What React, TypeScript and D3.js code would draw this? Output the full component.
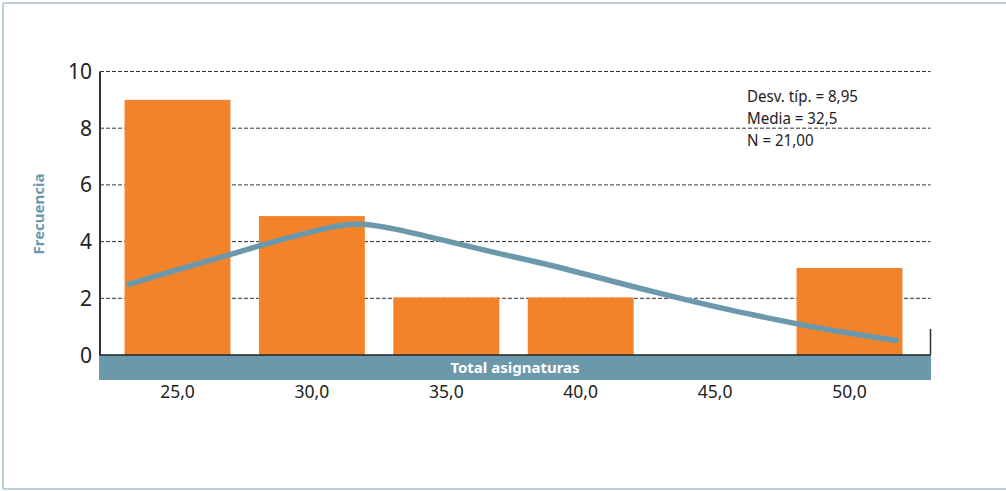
import React from "react";
import * as d3 from "d3";

const categories = [25, 30, 35, 40, 45, 50];
const tickLabels = ["25,0", "30,0", "35,0", "40,0", "45,0", "50,0"];
const frequencies = [9, 4.9, 2.03, 2.03, 0, 3.07];
const yTicks = [0, 2, 4, 6, 8, 10];
const curveX = [23.11, 24.96, 26.93, 28.05, 29.9, 31.13, 31.76, 32.99, 34.84, 36.7, 38.56, 40.42, 42.16, 43.65, 45.51, 47.36, 49.22, 51.82];
const curveY = [2.47, 3.0, 3.53, 3.86, 4.34, 4.59, 4.65, 4.48, 4.06, 3.63, 3.25, 2.79, 2.36, 2.01, 1.59, 1.23, 0.88, 0.5];
const statsLines = ["Desv. típ. = 8,95", "Media = 32,5", "N = 21,00"];
const xTitle = "Total asignaturas";
const yTitle = "Frecuencia";

const W = 1006;
const H = 491;
const FONT = "'Noto Sans', 'Open Sans', sans-serif";
const ORANGE = "#f2832b";
const BLUE = "#6b99ab";

export default function App() {
  const x = d3.scaleLinear().domain([25, 50]).range([177.5, 849.5]);
  const y = d3.scaleLinear().domain([0, 10]).range([355, 71.5]);
  const halfW = 1.97;
  const left = 100;
  const right = 930.5;

  const line = d3
    .line<number>()
    .x((_, i) => x(curveX[i]))
    .y((d) => y(d))
    .curve(d3.curveBasis);

  return (
    <div style={{ position: "absolute", left: 0, top: 0 }}>
      <svg width={W} height={H} style={{ display: "block" }}>
        <rect x={0} y={0} width={W} height={H} fill="#fff" />
        {/* frame */}
        <line x1={3} x2={W} y1={3} y2={3} stroke="#a9c0cc" strokeWidth={1.5} />
        <line x1={3} x2={3} y1={3} y2={489} stroke="#a9c0cc" strokeWidth={1.5} />
        <line x1={3} x2={W} y1={489} y2={489} stroke="#a9c0cc" strokeWidth={1.5} />

        {/* gridlines */}
        {yTicks.filter((t) => t > 0).map((t) => (
          <line key={t} x1={left} x2={right} y1={y(t)} y2={y(t)} stroke="#333" strokeWidth={1} strokeDasharray="4,2" />
        ))}

        {/* bars */}
        {categories.map((c, i) =>
          frequencies[i] > 0 ? (
            <rect
              key={c}
              x={x(c - halfW)}
              width={x(c + halfW) - x(c - halfW)}
              y={y(frequencies[i])}
              height={y(0) - y(frequencies[i])}
              fill={ORANGE}
            />
          ) : null
        )}

        {/* normal curve */}
        <path d={line(curveY) || ""} fill="none" stroke={BLUE} strokeWidth={5.5} />

        {/* axis band */}
        <rect x={99} y={355} width={832} height={25} fill={BLUE} />
        <line x1={left} x2={right} y1={355} y2={355} stroke="#222" strokeWidth={1.5} />
        <line x1={left} x2={left} y1={y(10)} y2={355.5} stroke="#333" strokeWidth={2} />
        <line x1={right} x2={right} y1={329} y2={355} stroke="#333" strokeWidth={1.5} />
        <text x={515} y={373} textAnchor="middle" fill="#fff" fontFamily={FONT} fontWeight="bold" fontSize={15}>
          {xTitle}
        </text>

        {/* y tick labels */}
        {yTicks.map((t) => (
          <text key={t} x={92} y={y(t) + 7.5} textAnchor="end" fill="#222" fontFamily={FONT} fontSize={21}>
            {t}
          </text>
        ))}

        {/* x tick labels */}
        {categories.map((c, i) => (
          <text key={c} x={x(c)} y={398} textAnchor="middle" fill="#222" fontFamily={FONT} fontSize={17.5}>
            {tickLabels[i]}
          </text>
        ))}

        {/* y title */}
        <text
          transform={`translate(44,214) rotate(-90)`}
          textAnchor="middle"
          fill={BLUE}
          fontFamily={FONT}
          fontWeight="bold"
          fontSize={15}
        >
          {yTitle}
        </text>

        {/* stats */}
        <g transform="translate(747,0) scale(0.945,1)">
          {statsLines.map((s, i) => (
            <text key={s} x={0} y={102 + i * 22} fill="#222" fontFamily={FONT} fontSize={16}>
              {s}
            </text>
          ))}
        </g>
      </svg>
    </div>
  );
}
